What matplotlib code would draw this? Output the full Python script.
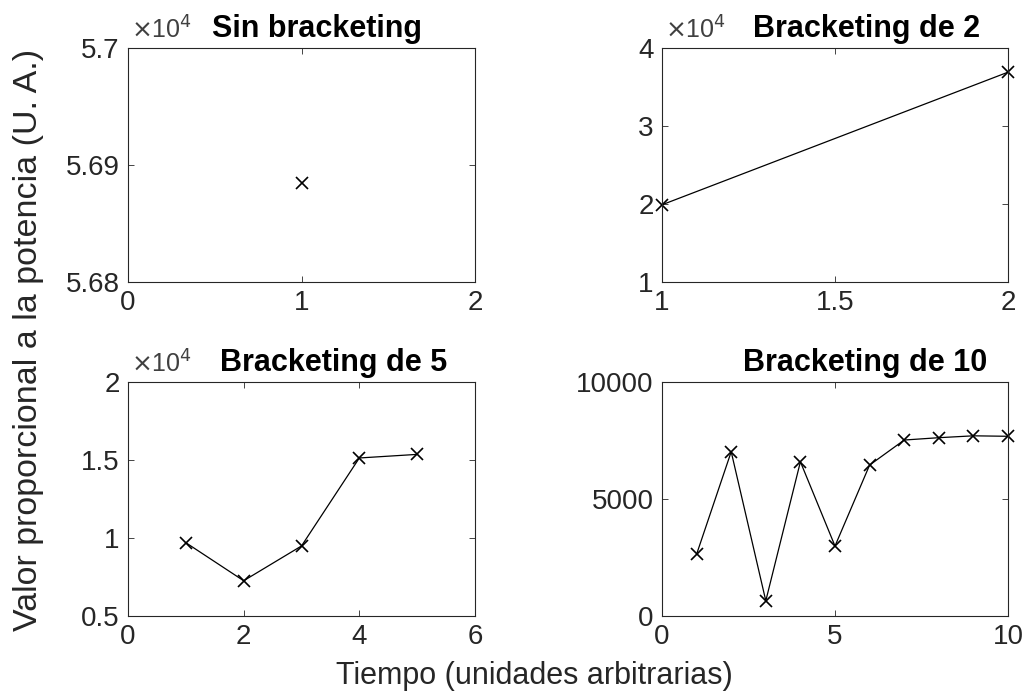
"""Potencia medida con distintos niveles de bracketing (2x2 subplots)."""
import matplotlib
matplotlib.use('Agg')
import matplotlib.pyplot as plt
from matplotlib.ticker import FuncFormatter

plt.rcParams['font.family'] = ['Liberation Sans', 'DejaVu Sans']

# valores leidos por panel
t_sin = [1]
p_sin = [56885]

t_b2 = [1, 2]
p_b2 = [19900, 36900]

t_b5 = [1, 2, 3, 4, 5]
p_b5 = [9700, 7260, 9490, 15130, 15360]

t_b10 = [1, 2, 3, 4, 5, 6, 7, 8, 9, 10]
p_b10 = [2640, 7020, 650, 6590, 2990, 6450, 7520, 7620, 7700, 7680]

titles = ['Sin bracketing', 'Bracketing de 2', 'Bracketing de 5', 'Bracketing de 10']
title_x = [0.545, 0.592, 0.594, 0.587]

gray = '#262626'
W, H = 1029, 695
fig = plt.figure(figsize=(W / 100, H / 100), dpi=100)

# posiciones de los ejes en pixeles (izq, der, arriba, abajo)
boxes = [(128, 475, 48, 282), (662, 1008, 48, 282),
         (128, 475, 382, 616), (662, 1008, 382, 616)]

panels = [
    (t_sin, p_sin, (0, 2), [0, 1, 2], (56800, 57000), [56800, 56900, 57000], True),
    (t_b2, p_b2, (1, 2), [1, 1.5, 2], (10000, 40000), [10000, 20000, 30000, 40000], True),
    (t_b5, p_b5, (0, 6), [0, 2, 4, 6], (5000, 20000), [5000, 10000, 15000, 20000], True),
    (t_b10, p_b10, (0, 10), [0, 5, 10], (0, 10000), [0, 5000, 10000], False),
]

for (l, r, t, b), (x, y, xl, xt, yl, yt, scaled), title, tx in zip(boxes, panels, titles, title_x):
    ax = fig.add_axes([l / W, 1 - b / H, (r - l) / W, (b - t) / H])
    ax.plot(x, y, '-x', color='k', lw=0.9, ms=9, mew=1.2, clip_on=False)
    ax.set_xlim(*xl)
    ax.set_xticks(xt)
    ax.set_ylim(*yl)
    ax.set_yticks(yt)
    ax.xaxis.set_major_formatter(FuncFormatter(lambda v, p: f'{v:g}'))
    if scaled:
        ax.yaxis.set_major_formatter(FuncFormatter(lambda v, p: f'{v / 1e4:g}'))
        ax.text(0.01, 1.02, r'$\times$10$^4$', transform=ax.transAxes,
                fontsize=18, color='#404040', ha='left', va='bottom')
    else:
        ax.yaxis.set_major_formatter(FuncFormatter(lambda v, p: f'{v:g}'))
    ax.tick_params(direction='in', length=4, width=0.6, top=True, right=True,
                   labelsize=20, colors=gray, pad=6)
    for s in ax.spines.values():
        s.set_linewidth(0.8)
        s.set_color(gray)
    ax.set_title(title, fontsize=22, fontweight='bold', x=tx, y=1.0, pad=8)

fig.text(29 / W, 1 - 340 / H, 'Valor proporcional a la potencia (U. A.)', rotation=90,
         fontsize=24.5, color=gray, ha='center', va='center')
fig.text(534 / W, 1 - 676 / H, 'Tiempo (unidades arbitrarias)',
         fontsize=22, color=gray, ha='center', va='center')

plt.savefig('out.png', dpi=100)
plt.close()
